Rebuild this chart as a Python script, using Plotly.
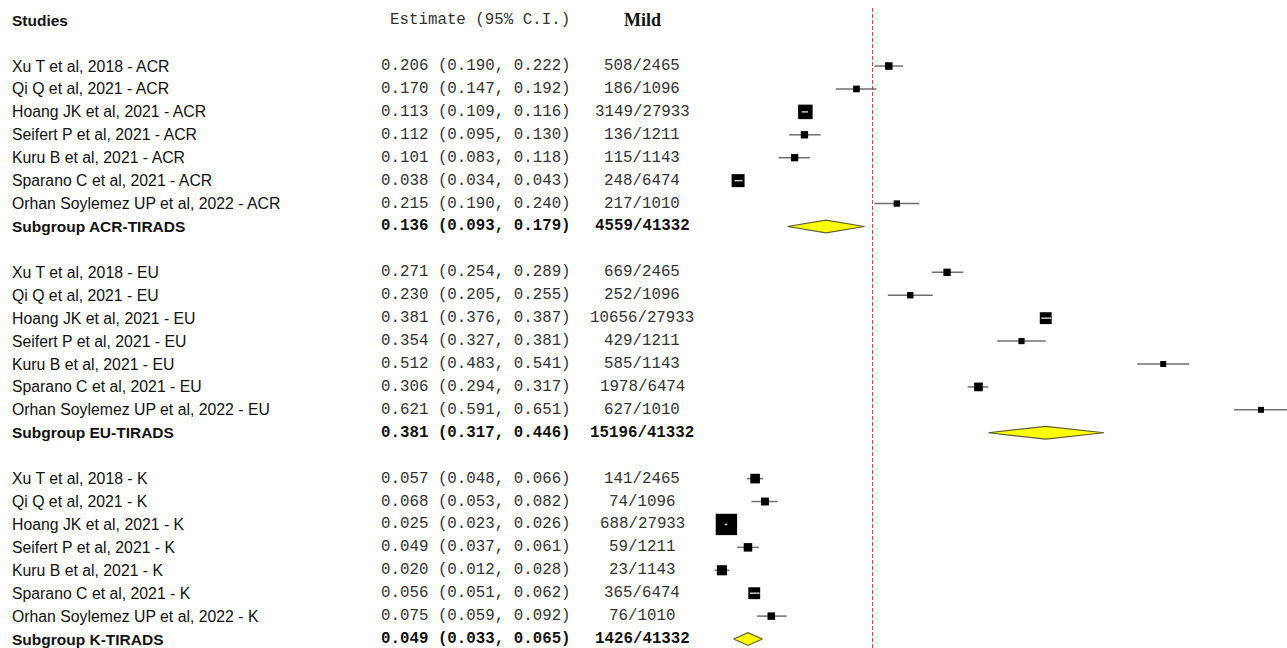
import plotly.graph_objects as go

# ---------------- data ----------------
study_names = ["Xu T et al, 2018", "Qi Q et al, 2021", "Hoang JK et al, 2021",
               "Seifert P et al, 2021", "Kuru B et al, 2021", "Sparano C et al, 2021",
               "Orhan Soylemez UP et al, 2022"]
totals = [2465, 1096, 27933, 1211, 1143, 6474, 1010]

acr_est = [0.206, 0.170, 0.113, 0.112, 0.101, 0.038, 0.215]
acr_lo = [0.190, 0.147, 0.109, 0.095, 0.083, 0.034, 0.190]
acr_hi = [0.222, 0.192, 0.116, 0.130, 0.118, 0.043, 0.240]
acr_events = [508, 186, 3149, 136, 115, 248, 217]
acr_sub = (0.136, 0.093, 0.179, 4559, 41332)

eu_est = [0.271, 0.230, 0.381, 0.354, 0.512, 0.306, 0.621]
eu_lo = [0.254, 0.205, 0.376, 0.327, 0.483, 0.294, 0.591]
eu_hi = [0.289, 0.255, 0.387, 0.381, 0.541, 0.317, 0.651]
eu_events = [669, 252, 10656, 429, 585, 1978, 627]
eu_sub = (0.381, 0.317, 0.446, 15196, 41332)

k_est = [0.057, 0.068, 0.025, 0.049, 0.020, 0.056, 0.075]
k_lo = [0.048, 0.053, 0.023, 0.037, 0.012, 0.051, 0.059]
k_hi = [0.066, 0.082, 0.026, 0.061, 0.028, 0.062, 0.092]
k_events = [141, 74, 688, 59, 23, 365, 76]
k_sub = (0.049, 0.033, 0.065, 1426, 41332)

groups = [("ACR", "ACR-TIRADS", acr_est, acr_lo, acr_hi, acr_events, acr_sub),
          ("EU", "EU-TIRADS", eu_est, eu_lo, eu_hi, eu_events, eu_sub),
          ("K", "K-TIRADS", k_est, k_lo, k_hi, k_events, k_sub)]

ref_line = 0.188

# ---------------- layout constants ----------------
W, H = 1287, 648
plot_left_px = 704
x_range = [0, 0.65]
row0_px, row_step = 20.2, 22.92
px_per_unit = (W - plot_left_px) / (x_range[1] - x_range[0])

def px(xp):
    return xp / W

name_x, est_x, mild_x, esthdr_x = 10, 379, 642, 572
mono_size = 15.8
sans = "Liberation Sans, Arial, sans-serif"
mono = "Liberation Mono, Courier New, monospace"
serif = "Liberation Serif, Times New Roman, serif"

fig = go.Figure()
ann = []

def text(x, row, s, font, size, bold=False, anchor="left", color="#111"):
    ann.append(dict(x=px(x), y=row, xref="paper", yref="y", text=(f"<b>{s}</b>" if bold else s),
                    showarrow=False, xanchor=anchor, yanchor="middle",
                    font=dict(family=font, size=size, color=color)))

text(name_x, 0, "Studies", sans, 15.5, bold=True)
text(esthdr_x, 0, "Estimate (95% C.I.)", mono, mono_size, anchor="right", color="#333")
text(mild_x, 0, "Mild", serif, 18, bold=True, anchor="center")

ci_x, ci_y = [], []
inner_x, inner_y = [], []
box_x, box_y, box_s = [], [], []
dia_traces = []

row = 2
for suffix, subname, est, lo, hi, ev, sub in groups:
    for i in range(len(study_names)):
        text(name_x, row, f"{study_names[i]} - {suffix}", sans, 15.8)
        text(est_x, row, f"{est[i]:.3f} ({lo[i]:.3f}, {hi[i]:.3f})", mono, mono_size, color="#333")
        text(mild_x, row, f"{ev[i]}/{totals[i]}", mono, mono_size, anchor="center", color="#333")
        se = (hi[i] - lo[i]) / 3.92
        w = 1.0 / se ** 2
        size = 0.55 * w ** 0.25 + 1.5
        box_x.append(est[i]); box_y.append(row); box_s.append(size)
        ci_x += [lo[i], hi[i], None]; ci_y += [row, row, None]
        if (hi[i] - lo[i]) * px_per_unit < size:
            inner_x += [lo[i], hi[i], None]; inner_y += [row, row, None]
        row += 1
    se_, slo, shi, sev, stot = sub
    text(name_x, row, f"Subgroup {subname}", sans, 15.5, bold=True)
    text(est_x, row, f"{se_:.3f} ({slo:.3f}, {shi:.3f})", mono, mono_size, bold=True, color="#111")
    text(mild_x, row, f"{sev}/{stot}", mono, mono_size, bold=True, anchor="center", color="#111")
    h = 0.28
    dia_traces.append(go.Scatter(x=[slo, se_, shi, se_, slo], y=[row, row - h, row, row + h, row],
                                 mode="lines", fill="toself", fillcolor="#ffff00",
                                 line=dict(color="#5e5e30", width=1.2), hoverinfo="skip",
                                 showlegend=False))
    row += 2

fig.add_trace(go.Scatter(x=ci_x, y=ci_y, mode="lines", line=dict(color="#6e6e6e", width=1.5),
                         hoverinfo="skip", showlegend=False))
fig.add_trace(go.Scatter(x=box_x, y=box_y, mode="markers",
                         marker=dict(symbol="square", size=box_s, color="black", opacity=1,
                                     line=dict(width=0)),
                         hoverinfo="skip", showlegend=False))
fig.add_trace(go.Scatter(x=inner_x, y=inner_y, mode="lines", line=dict(color="#c8c8c8", width=1.5),
                         hoverinfo="skip", showlegend=False))
for t in dia_traces:
    fig.add_trace(t)

y_top = -row0_px / row_step
y_bot = (H - row0_px) / row_step

fig.add_shape(type="line", x0=ref_line, x1=ref_line, xref="x", y0=0, y1=0.99, yref="paper",
              line=dict(color="#c0392b", width=1, dash="4px,2px"))

fig.update_layout(
    width=W, height=H, margin=dict(l=0, r=0, t=0, b=0),
    paper_bgcolor="white", plot_bgcolor="white",
    xaxis=dict(domain=[plot_left_px / W, 1], range=x_range, showgrid=False, zeroline=False,
               showticklabels=False, showline=False, fixedrange=True),
    yaxis=dict(range=[y_bot, y_top], showgrid=False, zeroline=False, showticklabels=False,
               showline=False, fixedrange=True),
    annotations=ann, showlegend=False,
)

fig.write_html("out.html", config={"displayModeBar": False},
               post_script="document.body.style.margin='0px';document.body.style.overflow='hidden';")
